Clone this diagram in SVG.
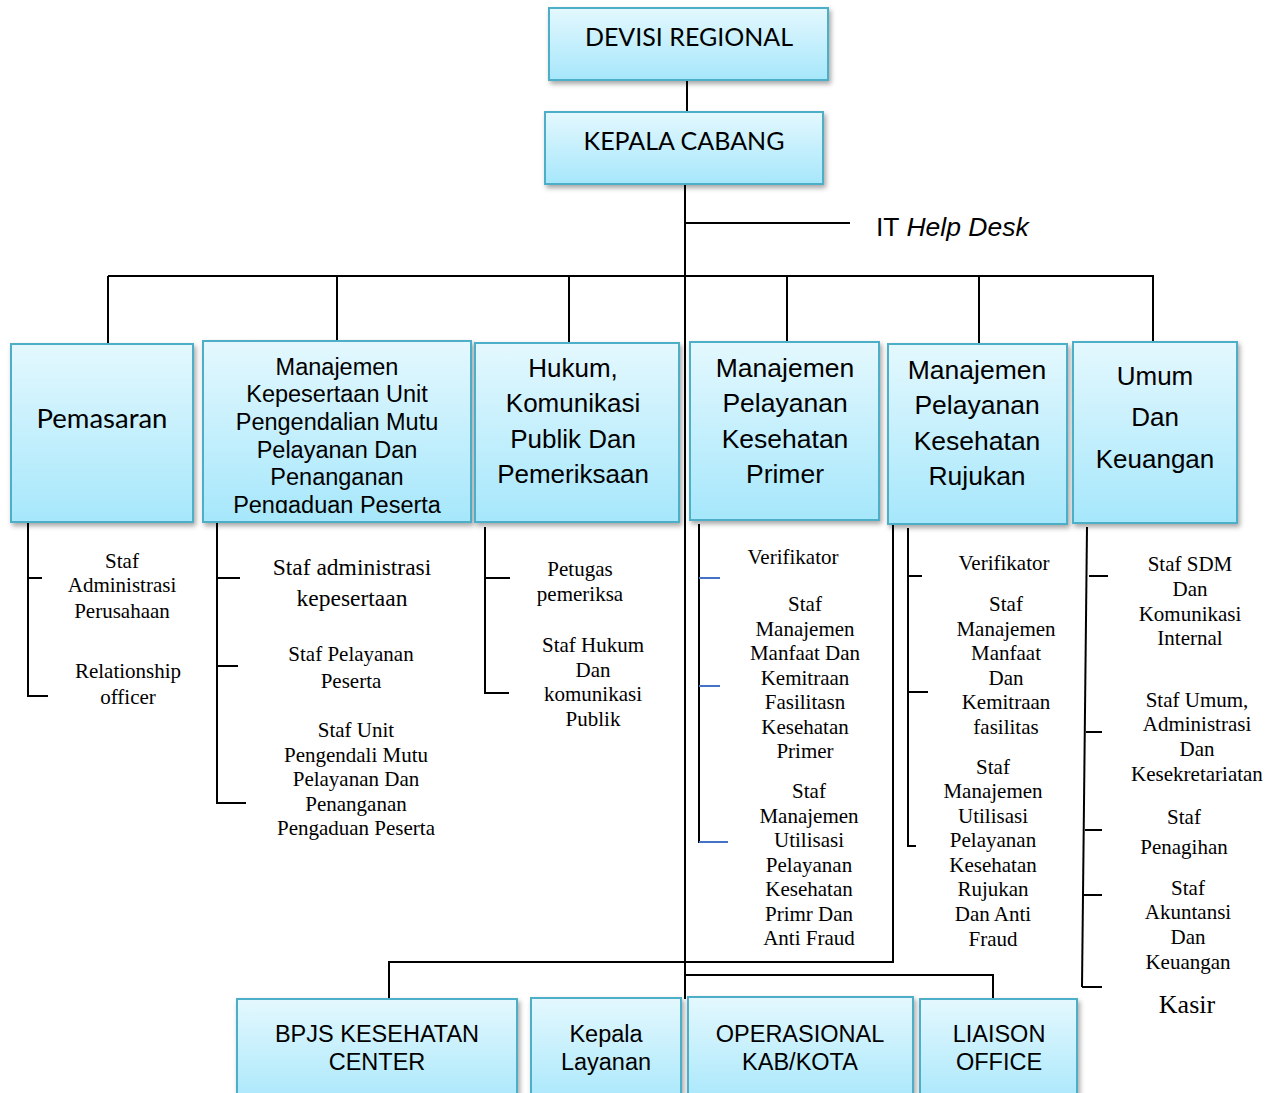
<svg xmlns="http://www.w3.org/2000/svg" width="1273" height="1093" viewBox="0 0 1273 1093">
<defs>
<linearGradient id="bg" x1="0" y1="0" x2="0" y2="1">
<stop offset="0" stop-color="#e4f8fe"/>
<stop offset="1" stop-color="#a6e7fb"/>
</linearGradient>
<filter id="sh" x="-10%" y="-10%" width="125%" height="125%">
<feDropShadow dx="2" dy="3" stdDeviation="2.5" flood-color="#000" flood-opacity="0.35"/>
</filter>
<clipPath id="clip2"><rect x="203" y="341" width="268" height="172"/></clipPath>
<style>
.box{fill:url(#bg);stroke:#4eaec8;stroke-width:2;filter:url(#sh)}
.ln{stroke:#000;stroke-width:2;fill:none}
.bl{stroke:#4472c4;stroke-width:2;fill:none}
.cal{font-family:Lato,"Liberation Sans",sans-serif;fill:#000;text-anchor:middle}
.ar{font-family:"Liberation Sans",Arial,sans-serif;fill:#000;text-anchor:middle}
.tm{font-family:"Liberation Serif","Times New Roman",serif;font-size:21px;fill:#000;text-anchor:middle}
</style>
</defs>
<rect width="1273" height="1093" fill="#fff"/>

<g id="connectors">
<line class="ln" x1="687" y1="80" x2="687" y2="112"/>
<line class="ln" x1="685" y1="184" x2="685" y2="999"/>
<line class="ln" x1="685" y1="223" x2="850" y2="223"/>
<line class="ln" x1="108" y1="276" x2="1154" y2="276"/>
<line class="ln" x1="108" y1="276" x2="108" y2="344"/>
<line class="ln" x1="337" y1="276" x2="337" y2="341"/>
<line class="ln" x1="569" y1="276" x2="569" y2="343"/>
<line class="ln" x1="787" y1="276" x2="787" y2="342"/>
<line class="ln" x1="979" y1="276" x2="979" y2="344"/>
<line class="ln" x1="1153" y1="276" x2="1153" y2="342"/>
<!-- Pemasaran -->
<polyline class="ln" points="28,523 28,696 48,696"/>
<line class="ln" x1="28" y1="578" x2="42" y2="578"/>
<!-- Kepesertaan -->
<polyline class="ln" points="217,523 217,803 246,803"/>
<line class="ln" x1="217" y1="578" x2="240" y2="578"/>
<line class="ln" x1="217" y1="666" x2="238" y2="666"/>
<!-- Hukum -->
<polyline class="ln" points="485,527 485,693 509,693"/>
<line class="ln" x1="485" y1="578" x2="510" y2="578"/>
<!-- Primer -->
<line class="ln" x1="699" y1="524" x2="699" y2="843"/>
<line class="bl" x1="699" y1="578" x2="720" y2="578"/>
<line class="bl" x1="699" y1="686" x2="720" y2="686"/>
<line class="bl" x1="699" y1="842" x2="728" y2="842"/>
<!-- Rujukan -->
<polyline class="ln" points="908,528 908,846 916,846"/>
<line class="ln" x1="908" y1="576" x2="922" y2="576"/>
<line class="ln" x1="908" y1="692" x2="928" y2="692"/>
<!-- Umum -->
<line class="ln" x1="1087" y1="527" x2="1082" y2="987"/>
<line class="ln" x1="1089" y1="576" x2="1108" y2="576"/>
<line class="ln" x1="1086" y1="732" x2="1102" y2="732"/>
<line class="ln" x1="1085" y1="830" x2="1102" y2="830"/>
<line class="ln" x1="1084" y1="895" x2="1102" y2="895"/>
<line class="ln" x1="1082" y1="987" x2="1102" y2="987"/>
<!-- bottom -->
<polyline class="ln" points="893,524 893,962 389,962 389,999"/>
<polyline class="ln" points="685,975 993,975 993,999"/>
</g>

<g id="devisi-regional">
<rect class="box" x="549" y="8" width="279" height="72"/>
<text class="cal" x="689" y="46" font-size="25">DEVISI REGIONAL</text>
</g>
<g id="kepala-cabang">
<rect class="box" x="545" y="112" width="278" height="72"/>
<text class="cal" x="684" y="150" font-size="25">KEPALA CABANG</text>
</g>
<g id="it-help-desk">
<text x="876" y="236" font-family="Liberation Sans, Arial, sans-serif" font-size="26.5">IT <tspan font-style="italic">Help Desk</tspan></text>
</g>

<g id="pemasaran">
<rect class="box" x="11" y="344" width="182" height="178"/>
<text class="cal" x="102" y="428" font-size="27.5">Pemasaran</text>
</g>
<g id="kepesertaan">
<rect class="box" x="203" y="341" width="268" height="181"/>
<g clip-path="url(#clip2)" class="ar" font-size="23.5">
<text x="337" y="375">Manajemen</text>
<text x="337" y="402">Kepesertaan Unit</text>
<text x="337" y="430">Pengendalian Mutu</text>
<text x="337" y="458">Pelayanan Dan</text>
<text x="337" y="485">Penanganan</text>
<text x="337" y="513">Pengaduan Peserta</text>
</g>
</g>
<g id="hukum">
<rect class="box" x="475" y="343" width="204" height="179"/>
<g class="ar" font-size="26">
<text x="573" y="377">Hukum,</text>
<text x="573" y="412">Komunikasi</text>
<text x="573" y="448">Publik Dan</text>
<text x="573" y="483">Pemeriksaan</text>
</g>
</g>
<g id="primer">
<rect class="box" x="690" y="342" width="189" height="178"/>
<g class="ar" font-size="26.5">
<text x="785" y="377">Manajemen</text>
<text x="785" y="412">Pelayanan</text>
<text x="785" y="448">Kesehatan</text>
<text x="785" y="483">Primer</text>
</g>
</g>
<g id="rujukan">
<rect class="box" x="888" y="344" width="179" height="180"/>
<g class="ar" font-size="26.5">
<text x="977" y="379">Manajemen</text>
<text x="977" y="414">Pelayanan</text>
<text x="977" y="450">Kesehatan</text>
<text x="977" y="485">Rujukan</text>
</g>
</g>
<g id="umum">
<rect class="box" x="1073" y="342" width="164" height="181"/>
<g class="ar" font-size="26">
<text x="1155" y="385">Umum</text>
<text x="1155" y="426">Dan</text>
<text x="1155" y="468">Keuangan</text>
</g>
</g>

<g id="staff-pemasaran" class="tm">
<text x="122" y="568">Staf</text>
<text x="122" y="592">Administrasi</text>
<text x="122" y="618">Perusahaan</text>
<text x="128" y="678">Relationship</text>
<text x="128" y="704">officer</text>
</g>
<g id="staff-kepesertaan" class="tm">
<text x="352" y="575" font-size="23.5">Staf administrasi</text>
<text x="352" y="606" font-size="23.5">kepesertaan</text>
<text x="351" y="661">Staf Pelayanan</text>
<text x="351" y="688">Peserta</text>
<text x="356" y="737">Staf Unit</text>
<text x="356" y="762">Pengendali Mutu</text>
<text x="356" y="786">Pelayanan Dan</text>
<text x="356" y="811">Penanganan</text>
<text x="356" y="835">Pengaduan Peserta</text>
</g>
<g id="staff-hukum" class="tm">
<text x="580" y="576">Petugas</text>
<text x="580" y="601">pemeriksa</text>
<text x="593" y="652">Staf Hukum</text>
<text x="593" y="677">Dan</text>
<text x="593" y="701">komunikasi</text>
<text x="593" y="726">Publik</text>
</g>
<g id="staff-primer" class="tm">
<text x="793" y="564">Verifikator</text>
<text x="805" y="611">Staf</text>
<text x="805" y="636">Manajemen</text>
<text x="805" y="660">Manfaat Dan</text>
<text x="805" y="685">Kemitraan</text>
<text x="805" y="709">Fasilitasn</text>
<text x="805" y="734">Kesehatan</text>
<text x="805" y="758">Primer</text>
<text x="809" y="798">Staf</text>
<text x="809" y="823">Manajemen</text>
<text x="809" y="847">Utilisasi</text>
<text x="809" y="872">Pelayanan</text>
<text x="809" y="896">Kesehatan</text>
<text x="809" y="921">Primr Dan</text>
<text x="809" y="945">Anti Fraud</text>
</g>
<g id="staff-rujukan" class="tm">
<text x="1004" y="570">Verifikator</text>
<text x="1006" y="611">Staf</text>
<text x="1006" y="636">Manajemen</text>
<text x="1006" y="660">Manfaat</text>
<text x="1006" y="685">Dan</text>
<text x="1006" y="709">Kemitraan</text>
<text x="1006" y="734">fasilitas</text>
<text x="993" y="774">Staf</text>
<text x="993" y="798">Manajemen</text>
<text x="993" y="823">Utilisasi</text>
<text x="993" y="847">Pelayanan</text>
<text x="993" y="872">Kesehatan</text>
<text x="993" y="896">Rujukan</text>
<text x="993" y="921">Dan Anti</text>
<text x="993" y="946">Fraud</text>
</g>
<g id="staff-umum" class="tm">
<text x="1190" y="571">Staf SDM</text>
<text x="1190" y="596">Dan</text>
<text x="1190" y="621">Komunikasi</text>
<text x="1190" y="645">Internal</text>
<text x="1197" y="707">Staf Umum,</text>
<text x="1197" y="731">Administrasi</text>
<text x="1197" y="756">Dan</text>
<text x="1197" y="781">Kesekretariatan</text>
<text x="1184" y="824">Staf</text>
<text x="1184" y="854">Penagihan</text>
<text x="1188" y="895">Staf</text>
<text x="1188" y="919">Akuntansi</text>
<text x="1188" y="944">Dan</text>
<text x="1188" y="969">Keuangan</text>
<text x="1187" y="1013" font-size="26">Kasir</text>
</g>

<g id="bpjs-center">
<rect class="box" x="237" y="999" width="280" height="110"/>
<text class="ar" x="377" y="1042" font-size="23.5">BPJS KESEHATAN</text>
<text class="ar" x="377" y="1070" font-size="23.5">CENTER</text>
</g>
<g id="kepala-layanan">
<rect class="box" x="531" y="998" width="150" height="110"/>
<text class="ar" x="606" y="1042" font-size="23.5">Kepala</text>
<text class="ar" x="606" y="1070" font-size="23.5">Layanan</text>
</g>
<g id="operasional">
<rect class="box" x="688" y="997" width="225" height="110"/>
<text class="ar" x="800" y="1042" font-size="23.5">OPERASIONAL</text>
<text class="ar" x="800" y="1070" font-size="23.5">KAB/KOTA</text>
</g>
<g id="liaison">
<rect class="box" x="920" y="999" width="157" height="110"/>
<text class="ar" x="999" y="1042" font-size="23.5">LIAISON</text>
<text class="ar" x="999" y="1070" font-size="23.5">OFFICE</text>
</g>
</svg>
